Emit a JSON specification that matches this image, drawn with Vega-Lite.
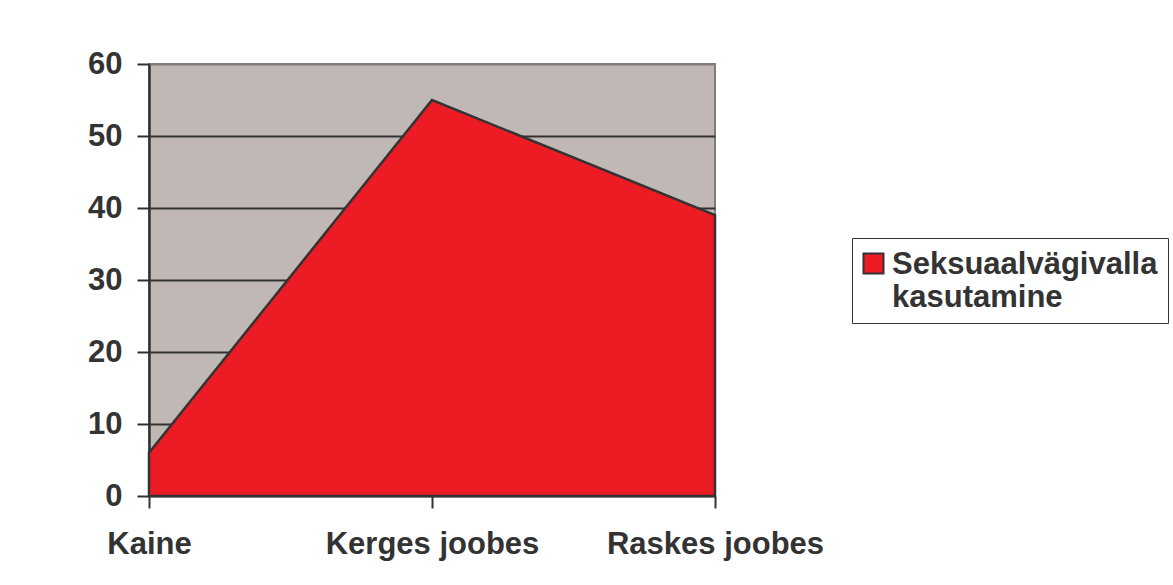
{
  "$schema": "https://vega.github.io/schema/vega-lite/v6.json",
  "autosize": "none",
  "width": 566,
  "height": 432,
  "padding": {"left": 149, "top": 64, "right": 458, "bottom": 89},
  "background": "white",
  "data": {"values": [
    {"kategooria": "Kaine", "vaartus": 6, "seeria": "Seksuaalvägivalla kasutamine"},
    {"kategooria": "Kerges joobes", "vaartus": 55, "seeria": "Seksuaalvägivalla kasutamine"},
    {"kategooria": "Raskes joobes", "vaartus": 39, "seeria": "Seksuaalvägivalla kasutamine"}
  ]},
  "mark": {"type": "area", "stroke": "#333333", "strokeWidth": 2.5, "strokeJoin": "miter", "fillOpacity": 1},
  "encoding": {
    "x": {
      "field": "kategooria", "type": "ordinal", "sort": null,
      "scale": {"type": "point", "padding": 0},
      "axis": {
        "title": null, "labelAngle": 0, "domain": false,
        "tickSize": 12, "tickWidth": 2, "tickColor": "#333333",
        "labelPadding": 21, "labelBaseline": "top", "labelLimit": 400, "labelOverlap": false,
        "labelFont": "Liberation Sans", "labelFontWeight": "bold", "labelFontSize": 31, "labelColor": "#333333"
      }
    },
    "y": {
      "field": "vaartus", "type": "quantitative",
      "scale": {"domain": [0, 60], "nice": false},
      "axis": {
        "title": null, "values": [0, 10, 20, 30, 40, 50, 60],
        "domainColor": "#333333", "domainWidth": 2.5,
        "tickSize": 12, "tickWidth": 2, "tickColor": "#333333",
        "grid": true, "gridWidth": 2,
        "gridColor": {"condition": {"test": "datum.value == 60", "value": "#857c79"}, "value": "#333333"},
        "labelPadding": 15,
        "labelFont": "Liberation Sans", "labelFontWeight": "bold", "labelFontSize": 31, "labelColor": "#333333"
      }
    },
    "fill": {
      "field": "seeria", "type": "nominal",
      "scale": {"range": ["#ED1C24"]},
      "legend": {
        "title": null, "orient": "none", "legendX": 703, "legendY": 174,
        "strokeColor": "#333333", "fillColor": "white", "padding": 10,
        "symbolType": "square", "symbolSize": 400, "symbolStrokeColor": "#333333", "symbolStrokeWidth": 2,
        "symbolOffset": -4,
        "labelExpr": "['Seksuaalvägivalla', 'kasutamine']",
        "labelFont": "Liberation Sans", "labelFontWeight": "bold", "labelFontSize": 31, "labelColor": "#333333",
        "labelLimit": 400, "labelOffset": 3, "labelBaseline": "top", "labelLineHeight": 34,
        "encoding": {"labels": {"dy": {"value": -14}}}
      }
    }
  },
  "config": {
    "view": {"fill": "#C0B8B5", "stroke": "#857c79", "strokeWidth": 2}
  }
}
